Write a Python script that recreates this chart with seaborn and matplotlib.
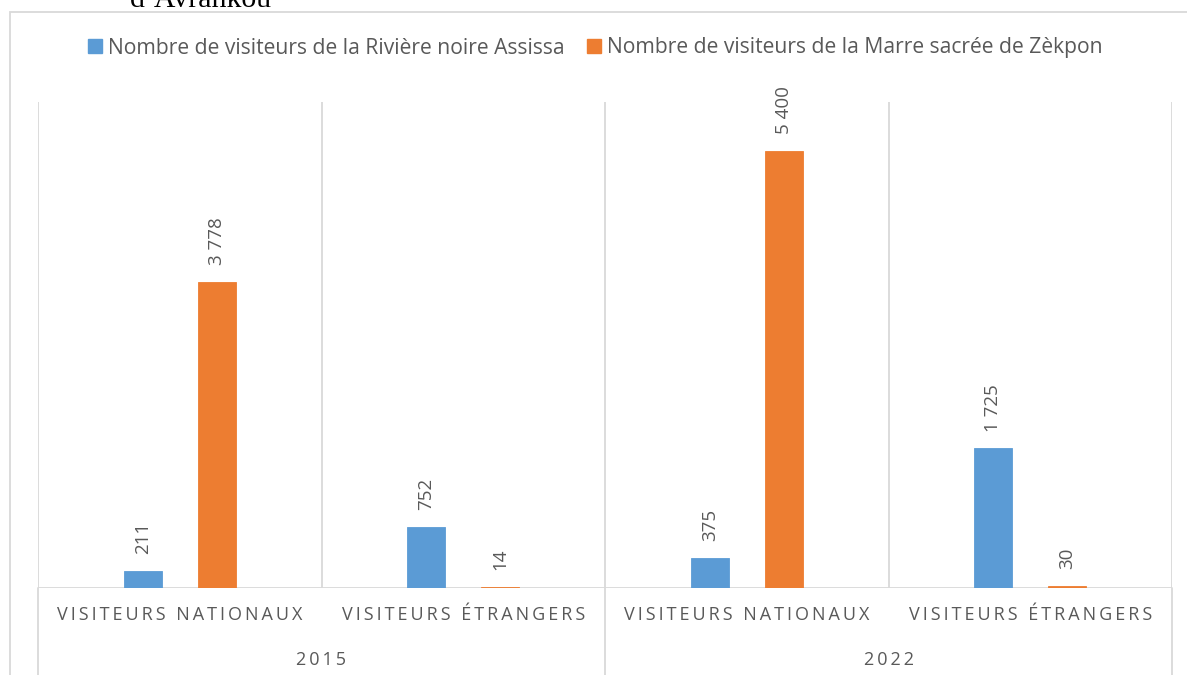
import pandas as pd
import seaborn as sns
import matplotlib.pyplot as plt
from matplotlib.patches import Rectangle
from matplotlib.lines import Line2D
import matplotlib.transforms as mtransforms

# Data
keys = ["2015-nat", "2015-etr", "2022-nat", "2022-etr"]
categories = ["VISITEURS NATIONAUX", "VISITEURS ÉTRANGERS",
              "VISITEURS NATIONAUX", "VISITEURS ÉTRANGERS"]
years = ["2015", "2022"]
riviere = [211, 752, 375, 1725]
marre = [3778, 14, 5400, 30]
series = ["Nombre de visiteurs de la Rivière noire Assissa",
          "Nombre de visiteurs de la Marre sacrée de Zèkpon"]

BLUE = "#5B9BD5"
ORANGE = "#ED7D31"
GREY_TXT = "#595959"
GRID = "#D9D9D9"


def spaced(s):
    """Fake Excel letter spacing with thin spaces."""
    return "\u2009".join(s)


def main():
    sns.set_style("white")
    plt.rcParams["font.family"] = ["Open Sans", "DejaVu Sans"]

    df = pd.DataFrame({
        "key": keys * 2,
        "serie": [series[0]] * 4 + [series[1]] * 4,
        "value": riviere + marre,
    })

    fig = plt.figure(figsize=(11.87, 6.75), dpi=100)
    ax = fig.add_axes([38 / 1187, 87 / 675, 1134 / 1187, 486 / 675])

    sns.barplot(data=df, x="key", y="value", hue="serie", order=keys,
                hue_order=series, palette=[BLUE, ORANGE], width=0.52,
                gap=0.485, ax=ax, legend=False, saturation=1)

    # thin outline in the bar colour so the tiny bars (14, 30) stay visible
    for cont, col in zip(ax.containers, [BLUE, ORANGE]):
        for p in cont:
            p.set_edgecolor(col)
            p.set_linewidth(0.6)
            p.set_zorder(3)

    ax.set_xlim(-0.5, 3.5)
    ax.set_ylim(0, 6000)
    sns.despine(ax=ax, left=True, bottom=True, top=True, right=True)
    ax.set_yticks([])
    ax.set_xlabel("")
    ax.set_ylabel("")

    # gridlines between categories and baseline
    for xb in [-0.5, 0.5, 1.5, 2.5, 3.5]:
        ax.axvline(xb, color=GRID, lw=1.3, zorder=0)
    ax.axhline(0, color=GRID, lw=1.3, zorder=1)
    # group separators extending below the axis
    for xb in [-0.5, 1.5, 3.5]:
        ax.plot([xb, xb], [0, -0.2], color=GRID, lw=1.3,
                transform=mtransforms.blended_transform_factory(ax.transData, ax.transAxes),
                clip_on=False)

    # data labels
    for cont in ax.containers:
        ax.bar_label(cont, labels=[f"{v:,.0f}".replace(",", " ") for v in cont.datavalues],
                     padding=12, rotation=90, color=GREY_TXT, fontsize=13.5)

    # category labels
    ax.set_xticks(range(4))
    ax.set_xticklabels([spaced(c) for c in categories], color=GREY_TXT, fontsize=13)
    ax.tick_params(axis="x", length=0, pad=13)

    trans = mtransforms.blended_transform_factory(ax.transData, ax.transAxes)
    for i, y in enumerate(years):
        ax.text(0.5 + 2 * i, -0.148, spaced(y), transform=trans, ha="center",
                va="center", color=GREY_TXT, fontsize=13)

    # legend
    handles = [Line2D([], [], marker="s", ls="", color=c, markersize=10) for c in [BLUE, ORANGE]]
    fig.legend(handles, series, loc="center", bbox_to_anchor=(0.5, 1 - 48 / 675),
               ncol=2, frameon=False, fontsize=15.2, handletextpad=0.1,
               columnspacing=0.9, labelcolor=GREY_TXT, handlelength=1.0)

    # chart frame and cut-off title
    fig.patches.append(Rectangle((10 / 1187, -0.1), 1.2, 1 - 12 / 675 + 0.1,
                                 transform=fig.transFigure, fill=False,
                                 edgecolor=GRID, lw=1.3))
    fig.text(130 / 1187, 1 - 7 / 675, "d\u2019Avrankou", family="Liberation Serif",
             fontsize=21.5, va="baseline", ha="left", color="black")

    fig.savefig("out.png", dpi=100)


if __name__ == "__main__":
    main()
